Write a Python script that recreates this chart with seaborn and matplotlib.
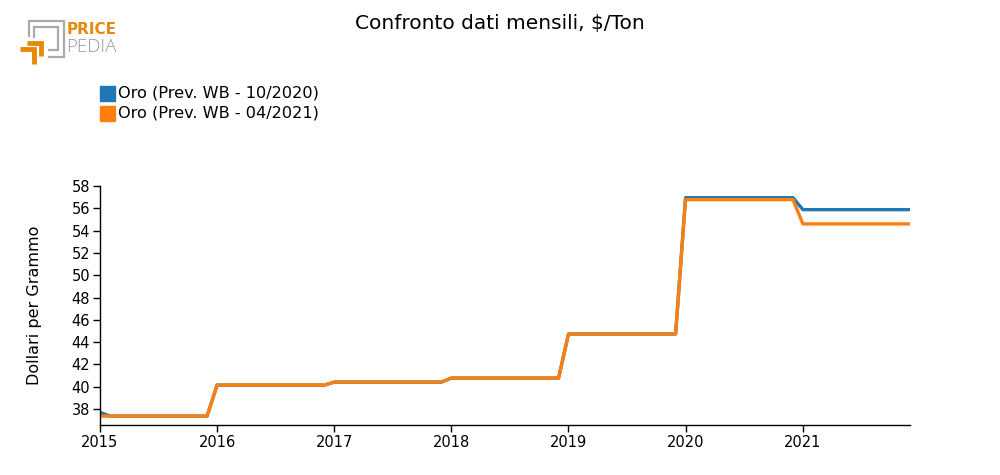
import matplotlib
matplotlib.use("Agg")
import matplotlib.pyplot as plt
import seaborn as sns
import pandas as pd
import numpy as np
from matplotlib.patches import Rectangle
from matplotlib.lines import Line2D

sns.set_theme(style="white")
plt.rcParams['font.family'] = ['DejaVu Sans']
plt.rcParams['text.color'] = 'black'
plt.rcParams['axes.labelcolor'] = 'black'
plt.rcParams['xtick.color'] = 'black'
plt.rcParams['ytick.color'] = 'black'

years = [2015, 2016, 2017, 2018, 2019, 2020, 2021]
annual_wb_oct2020 = [37.37, 40.15, 40.42, 40.78, 44.73, 56.95, 55.88]
annual_wb_apr2021 = [37.37, 40.15, 40.42, 40.78, 44.73, 56.78, 54.6]
first_point_oct2020 = 37.7
series_names = ["Oro (Prev. WB - 10/2020)", "Oro (Prev. WB - 04/2021)"]
colors = ["#1f77b4", "#ff7f0e"]

dates = pd.date_range("2015-01-01", "2021-12-01", freq="MS")
rows = []
for name, vals in zip(series_names, [annual_wb_oct2020, annual_wb_apr2021]):
    for d in dates:
        v = vals[years.index(d.year)]
        rows.append({"date": d, "value": v, "serie": name})
df = pd.DataFrame(rows)
df.loc[(df.serie == series_names[0]) & (df.date == dates[0]), "value"] = first_point_oct2020

fig = plt.figure(figsize=(10, 4.75), dpi=100)
ax = fig.add_axes([0.1, 1 - 425/475, 0.81, (425 - 186)/475])
sns.lineplot(data=df, x="date", y="value", hue="serie", palette=colors,
             linewidth=2.4, ax=ax, legend=False)

ax.set_xlim(pd.Timestamp("2015-01-01"), pd.Timestamp("2021-12-01"))
ax.set_ylim(36.57, 58)
ax.set_yticks(np.arange(38, 59, 2))
ax.set_xticks([pd.Timestamp(f"{y}-01-01") for y in years])
ax.set_xticklabels([str(y) for y in years])
ax.set_xlabel("")
ax.set_ylabel("Dollari per Grammo", fontsize=11.5, labelpad=21)
for s in ["top", "right"]:
    ax.spines[s].set_visible(False)
for s in ["left", "bottom"]:
    ax.spines[s].set_color("black")
    ax.spines[s].set_linewidth(1)
ax.tick_params(axis="both", direction="out", length=5, width=1, color="black",
               labelsize=10.5, bottom=True, left=True, pad=2)

fig.text(0.5, 1 - 23/475, "Confronto dati mensili, $/Ton", ha="center", va="center", fontsize=14.5)

# legend
for i, (name, c) in enumerate(zip(series_names, colors)):
    y = 1 - (93 + 20*i)/475
    fig.patches.append(Rectangle((100/1000, y - 7.5/475), 15/1000, 15/475,
                                 transform=fig.transFigure, color=c, figure=fig))
    fig.text(118/1000, y, name, ha="left", va="center", fontsize=11.6)

# logo
def fx(x): return x/1000
def fy(y): return 1 - y/475
grey = "#aaaaaa"
orange = "#e8890c"
for pts, c, lw in [
    ([(29, 37), (29, 20.5), (64, 20.5), (64, 56.5), (48, 56.5)], grey, 1.6),
    ([(34, 38), (34, 27), (58, 27), (58, 50), (48, 50)], grey, 1.6),
    ([(20, 49), (34, 49), (34, 64)], orange, 3.5),
    ([(27, 43), (41, 43), (41, 56)], orange, 3.5),
]:
    xs = [fx(p[0]) for p in pts]; ys = [fy(p[1]) for p in pts]
    fig.lines.append(Line2D(xs, ys, transform=fig.transFigure, color=c, lw=lw,
                            solid_joinstyle="miter", solid_capstyle="butt", figure=fig))
fig.text(fx(67), fy(30), "PRICE", color=orange, fontsize=11, fontweight="bold", ha="left", va="center")
fig.text(fx(66), fy(47.5), "PEDIA", color="#999999", fontsize=13.5, fontweight="light",
         family=["Open Sans", "DejaVu Sans"], ha="left", va="center")

fig.savefig("out.png", dpi=100)
